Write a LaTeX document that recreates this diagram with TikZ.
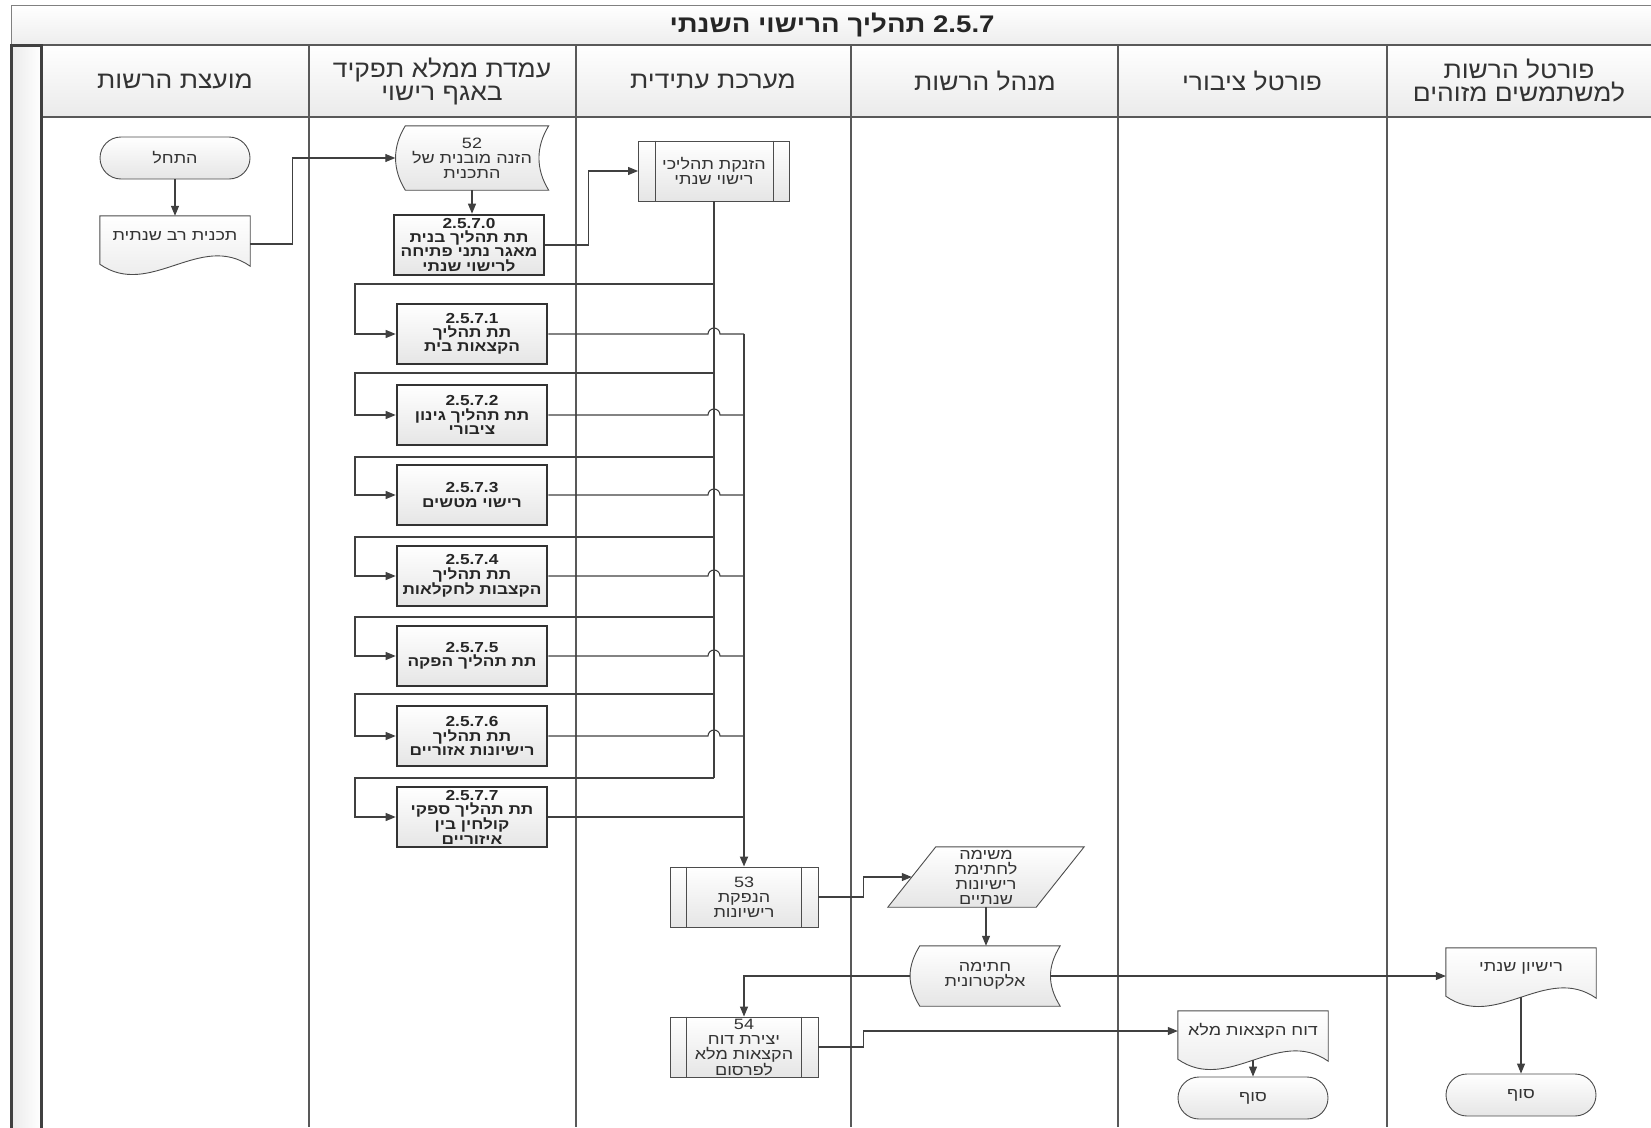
\documentclass[tikz,border=0pt]{standalone}
\usepackage{fontspec}
\setmainfont{Liberation Sans}[Script=Hebrew]
\newfontfamily\boxface[Script=Hebrew,FakeStretch=1.19]{Liberation Sans}
\newfontfamily\nodeface[Script=Hebrew,FakeStretch=1.2]{Liberation Sans}
\newfontfamily\headface[Script=Hebrew,FakeStretch=1.1]{Liberation Sans}
\newfontfamily\titleface[Script=Hebrew,FakeStretch=1.15]{Liberation Sans}
\TeXXeTstate=1
\usetikzlibrary{arrows.meta,calc,backgrounds}

\newcommand{\hb}[1]{\beginR #1\endR}
\newcommand{\lanefont}{\headface\fontsize{24}{23}\selectfont}
\newcommand{\nodefont}{\nodeface\fontsize{15}{15}\selectfont}
\newcommand{\boxfont}{\boxface\bfseries\fontsize{14.5}{14.2}\selectfont}
\newcommand{\titlefont}{\titleface\bfseries\fontsize{24}{24}\selectfont}

\tikzset{
  lane/.style={draw=black!65, line width=1.2pt},
  link/.style={draw=black!75, line width=1.1pt},
  flow/.style={link, -{Triangle[length=10pt,width=8pt]}},
  shade/.style={top color=white, bottom color=black!10},
  outline/.style={shade, draw=black!70, line width=0.9pt},
  textbox/.style={inner sep=0pt, align=center, font=\nodefont, text=black!80},
  term/.style={textbox, outline, rounded corners=21pt, minimum width=150pt, minimum height=42pt},
  predef/.style={textbox, outline, minimum width=148pt, minimum height=60pt},
  subproc/.style={outline, draw=black!80, line width=2.6pt, inner sep=0pt, align=center,
    minimum width=150pt, minimum height=60pt, font=\boxfont, text=black!85},
  lanehead/.style={align=center, font=\lanefont, text=black!80}
}

\begin{document}
\begin{tikzpicture}[x=1pt,y=-1pt]
\useasboundingbox (0,0) rectangle (1651,1127);

% pool and lanes
\fill[top color=white, bottom color=black!7] (11,5) rectangle (1651,45);
\fill[top color=white, bottom color=black!8] (41,45) rectangle (1651,117);
\draw[black!50, line width=1pt] (11,1127) -- (11,5) -- (1651,5);
\draw[lane] (11,45) -- (1651,45);
\draw[lane] (41,117) -- (1651,117);
\foreach \x in {309,576,851,1118,1387} \draw[lane] (\x,45) -- (\x,1127);
\draw[left color=black!8, right color=white, draw=black!75, line width=3pt] (11,45) rectangle (41,1135);

\node[font=\titlefont, text=black!85] (title) at (832,25) {\hb{\beginL 2.5.7\endL{} תהליך הרישוי השנתי}};
\node[lanehead] (h1) at (175,81) {\hb{מועצת הרשות}};
\node[lanehead] (h2) at (442,81) {\hb{עמדת ממלא תפקיד}\\\hb{באגף רישוי}};
\node[lanehead] (h3) at (713,81) {\hb{מערכת עתידית}};
\node[lanehead] (h4) at (985,81) {\hb{מנהל הרשות}};
\node[lanehead] (h5) at (1252,81) {\hb{פורטל ציבורי}};
\node[lanehead] (h6) at (1519,81) {\hb{פורטל הרשות}\\\hb{למשתמשים מזוהים}};

% shapes
\node[term] (start) at (175,158) {\hb{התחל}};
\node[textbox, minimum width=150pt, minimum height=40pt] (plan) at (175,236) {\hb{תכנית רב שנתית}};
\node[textbox, minimum width=153pt, minimum height=64pt] (input) at (472,158) {52\\\hb{הזנה מובנית של}\\\hb{התכנית}};
\node[subproc] (b0) at (469,245) {2.5.7.0\\\hb{תת תהליך בנית}\\\hb{מאגר נתני פתיחה}\\\hb{לרישוי שנתי}};
\node[predef, minimum width=151pt] (launch) at (714,171) {\hb{הזנקת תהליכי}\\\hb{רישוי שנתי}};

\node[subproc] (b1) at (472,334) {2.5.7.1\\\hb{תת תהליך}\\\hb{הקצאות בית}};
\node[subproc] (b2) at (472,415) {2.5.7.2\\\hb{תת תהליך גינון}\\\hb{ציבורי}};
\node[subproc] (b3) at (472,495) {2.5.7.3\\\hb{רישוי מטשים}};
\node[subproc] (b4) at (472,576) {2.5.7.4\\\hb{תת תהליך}\\\hb{הקצבות לחקלאות}};
\node[subproc] (b5) at (472,656) {2.5.7.5\\\hb{תת תהליך הפקה}};
\node[subproc] (b6) at (472,736) {2.5.7.6\\\hb{תת תהליך}\\\hb{רישיונות אזוריים}};
\node[subproc] (b7) at (472,817) {2.5.7.7\\\hb{תת תהליך ספקי}\\\hb{קולחין בין}\\\hb{איזוריים}};

\node[predef] (p53) at (744,897) {53\\\hb{הנפקת}\\\hb{רישיונות}};
\node[textbox, minimum width=148pt, minimum height=60pt] (task) at (986,877) {\hb{משימה}\\\hb{לחתימת}\\\hb{רישיונות}\\\hb{שנתיים}};
\node[textbox, minimum width=150pt, minimum height=60pt] (sig) at (985,976) {\hb{חתימה}\\\hb{אלקטרונית}};
\node[predef] (p54) at (744,1047) {54\\\hb{יצירת דוח}\\\hb{הקצאות מלא}\\\hb{לפרסום}};
\node[textbox, minimum width=150pt, minimum height=40pt] (rep) at (1253,1031) {\hb{דוח הקצאות מלא}};
\node[term] (end5) at (1253,1098) {\hb{סוף}};
\node[textbox, minimum width=150pt, minimum height=40pt] (lic) at (1521,968) {\hb{רישיון שנתי}};
\node[term] (end6) at (1521,1095) {\hb{סוף}};

\foreach \n in {launch,p53,p54}
  \draw[black!70, line width=0.9pt] ([xshift=17pt]\n.north west) -- ([xshift=17pt]\n.south west)
    ([xshift=-17pt]\n.north east) -- ([xshift=-17pt]\n.south east);

\begin{pgfonlayer}{background}
\foreach \n in {plan,rep,lic}
  \path[outline] (\n.north west) -- (\n.north east) -- ($(\n.south east)+(0,10)$)
    .. controls +(-50,-35) and +(50,35) .. ($(\n.south west)+(0,8)$) -- cycle;
\foreach \n in {input,sig}
  \path[outline] ([xshift=10pt]\n.north west) -- (\n.north east)
    .. controls +(-13,21) and +(-13,-21) .. (\n.south east)
    -- ([xshift=10pt]\n.south west)
    .. controls +(-13,-21) and +(-13,21) .. ([xshift=10pt]\n.north west) -- cycle;
\path[outline] ($(task.north west)+(24,0)$) -- ($(task.north east)+(24,0)$)
  -- ($(task.south east)+(-24,0)$) -- ($(task.south west)+(-24,0)$) -- cycle;
\end{pgfonlayer}

% connectors
\draw[flow] (start) -- (plan);
\draw[flow] ($(plan.east)+(0,8)$) -- ++(42,0) |- (input.west);
\draw[flow] (input.south) -- (input.south |- b0.north);
\draw[flow] (b0.east) -- ++(43,0) |- (launch.west);

\foreach \i/\fy in {1/284,2/373,3/457,4/537,5/617,6/694,7/778} {
  \coordinate (f\i) at (355,\fy);
  \draw[flow] (launch.south |- f\i) -- (f\i) |- (b\i.west);
}
\draw[black!75, line width=2.4pt] (launch.south) -- (launch.south |- f7);
\foreach \i in {1,...,6}
  \draw[link] (b\i.east) -- ([xshift=-6pt]launch.south |- b\i.east)
    arc[start angle=180, end angle=0, radius=6pt] -- (p53.north |- b\i.east);
\draw[link] (b7.east) -- (p53.north |- b7.east);
\draw[flow, line width=1.8pt] (p53.north |- b1.east) -- (p53.north);

\draw[flow] (p53.east) -- ++(45,0) |- (task.west);
\draw[flow] (task.south) -- (task.south |- sig.north);
\draw[flow] (sig.west) -| (p54.north);
\draw[flow] (p54.east) -- ++(45,0) |- (rep.west);
\draw[flow] ([xshift=-10pt]sig.east) -- (sig.east -| lic.west);
\draw[flow] ($(rep.south)+(0,9)$) -- (rep.south |- end5.north);
\draw[flow] ($(lic.south)+(0,9)$) -- (lic.south |- end6.north);
\end{tikzpicture}
\end{document}
